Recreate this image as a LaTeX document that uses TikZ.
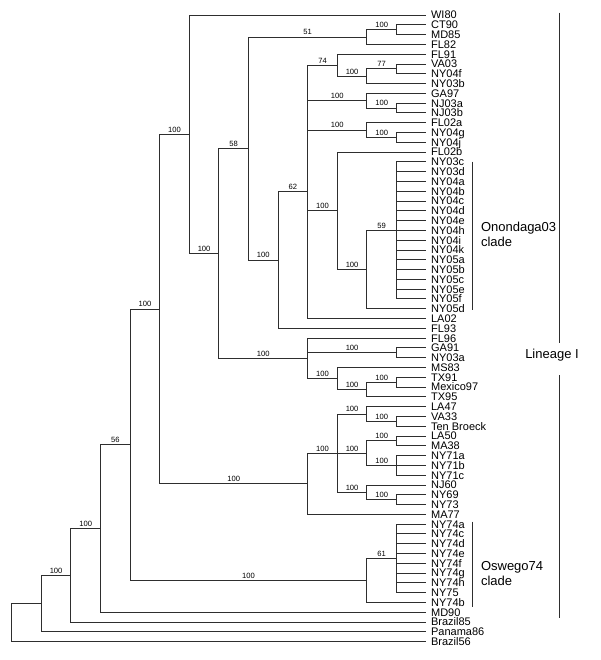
\documentclass[tikz,border=0pt]{standalone}
\usepackage{fontspec}
\setmainfont{Liberation Sans}
\begin{document}
\begin{tikzpicture}[x=1pt,y=-1pt,
  edge/.style={draw=black!82, line width=0.85pt},
  leaf/.style={anchor=west, inner xsep=4.8pt, inner ysep=0pt, text height=7.88pt, text depth=0pt, font=\fontsize{11}{13}\selectfont},
  bs/.style={pos=0.75, anchor=south, inner sep=0pt, yshift=1.6pt, font=\fontsize{7.6}{9}\selectfont},
  bracket/.style={draw=black!82, line width=0.9pt},
  cladetxt/.style={font=\fontsize{13}{15}\selectfont, align=left, anchor=west, inner sep=0pt}]
\useasboundingbox (0,0) rectangle (600,660);

% leaves
\foreach \n/\t [count=\i] in {WI80/WI80, CT90/CT90, MD85/MD85, FL82/FL82, FL91/FL91, VA03/VA03, NY04f/NY04f, NY03b/NY03b, GA97/GA97, NJ03a/NJ03a, NJ03b/NJ03b, FL02a/FL02a, NY04g/NY04g, NY04j/NY04j, FL02b/FL02b, NY03c/NY03c, NY03d/NY03d, NY04a/NY04a, NY04b/NY04b, NY04c/NY04c, NY04d/NY04d, NY04e/NY04e, NY04h/NY04h, NY04i/NY04i, NY04k/NY04k, NY05a/NY05a, NY05b/NY05b, NY05c/NY05c, NY05e/NY05e, NY05f/NY05f, NY05d/NY05d, LA02/LA02, FL93/FL93, FL96/FL96, GA91/GA91, NY03a/NY03a, MS83/MS83, TX91/TX91, Mexico97/Mexico97, TX95/TX95, LA47/LA47, VA33/VA33, TenBroeck/Ten Broeck, LA50/LA50, MA38/MA38, NY71a/NY71a, NY71b/NY71b, NY71c/NY71c, NJ60/NJ60, NY69/NY69, NY73/NY73, MA77/MA77, NY74a/NY74a, NY74c/NY74c, NY74d/NY74d, NY74e/NY74e, NY74f/NY74f, NY74g/NY74g, NY74h/NY74h, NY75/NY75, NY74b/NY74b, MD90/MD90, Brazil85/Brazil85, Panama86/Panama86, Brazil56/Brazil56}
  \node[leaf] (\n) at (426.1, {15+(\i-1)*9.79}) {\t};

% internal nodes
\coordinate (R)     at (11.7, 622.5);
\coordinate (L1)    at (41.3, 603.49);
\coordinate (L2)    at (70.9, 575.2);
\coordinate (L3)    at (100.5, 528.43);
\coordinate (L4)    at (130.1, 444.66);
\coordinate (L5)    at (159.7, 308.95);
\coordinate (L6)    at (189.3, 134.2);
\coordinate (L7)    at (218.9, 253.41);
\coordinate (L8)    at (248.5, 148.55);
\coordinate (L9)    at (278.1, 260.06);
\coordinate (n51)   at (366.9, 37.03);
\coordinate (nCM)   at (396.5, 29.685);
\coordinate (n62)   at (307.7, 191.83);
\coordinate (n74)   at (337.3, 65.175);
\coordinate (n100a) at (366.9, 76.19);
\coordinate (n77)   at (396.5, 68.845);
\coordinate (nGA)   at (366.9, 100.66);
\coordinate (nNJ)   at (396.5, 108.005);
\coordinate (nFLa)  at (366.9, 130.03);
\coordinate (nNYg)  at (396.5, 137.375);
\coordinate (nFLb)  at (337.3, 210.80);
\coordinate (n59p)  at (366.9, 269.54);
\coordinate (n59)   at (396.5, 230.38);
\coordinate (M)     at (307.7, 358.26);
\coordinate (nGN)   at (396.5, 352.755);
\coordinate (nMS)   at (337.3, 378.455);
\coordinate (nTX)   at (366.9, 389.47);
\coordinate (nTM)   at (396.5, 382.125);
\coordinate (Bot)   at (307.7, 483.70);
\coordinate (nABC)  at (337.3, 453.10);
\coordinate (A)     at (366.9, 413.94);
\coordinate (nVT)   at (396.5, 421.285);
\coordinate (B)     at (366.9, 453.10);
\coordinate (nLM)   at (396.5, 440.865);
\coordinate (nNY71) at (396.5, 465.34);
\coordinate (C)     at (366.9, 492.26);
\coordinate (nNY69) at (396.5, 499.605);
\coordinate (Osw)   at (366.9, 580.37);
\coordinate (n61)   at (396.5, 558.345);

% backbone
\draw[edge] (R) |- (L1);
\draw[edge] (R) |- (Brazil56.west);
\draw[edge] (L1) |- node[bs] (bL2) {100} (L2);
\draw[edge] (L1) |- (Panama86.west);
\draw[edge] (L2) |- node[bs] (bL3) {100} (L3);
\draw[edge] (L2) |- (Brazil85.west);
\draw[edge] (L3) |- node[bs] (bL4) {56} (L4);
\draw[edge] (L3) |- (MD90.west);
\draw[edge] (L4) |- node[bs] (bL5) {100} (L5);
\draw[edge] (L4) |- node[bs] (bOsw) {100} (Osw);
\draw[edge] (L5) |- node[bs] (bL6) {100} (L6);
\draw[edge] (L5) |- node[bs] (bBot) {100} (Bot);
\draw[edge] (L6) |- (WI80.west);
\draw[edge] (L6) |- node[bs] (bL7) {100} (L7);
\draw[edge] (L7) |- node[bs] (bL8) {58} (L8);
\draw[edge] (L7) |- node[bs] (bM) {100} (M);
\draw[edge] (L8) |- node[bs] (bn51) {51} (n51);
\draw[edge] (L8) |- node[bs] (bL9) {100} (L9);
\draw[edge] (n51) |- node[bs] (bnCM) {100} (nCM);
\draw[edge] (n51) |- (FL82.west);
\draw[edge] (nCM) |- (CT90.west);
\draw[edge] (nCM) |- (MD85.west);
\draw[edge] (L9) |- node[bs] (bn62) {62} (n62);
\draw[edge] (L9) |- (FL93.west);
% node 62
\draw[edge] (n62) |- node[bs] (bn74) {74} (n74);
\draw[edge] (n62) |- node[bs] (bnGA) {100} (nGA);
\draw[edge] (n62) |- node[bs] (bnFLa) {100} (nFLa);
\draw[edge] (n62) |- node[bs] (bnFLb) {100} (nFLb);
\draw[edge] (n62) |- (LA02.west);
\draw[edge] (n74) |- (FL91.west);
\draw[edge] (n74) |- node[bs] (bn100a) {100} (n100a);
\draw[edge] (n100a) |- node[bs] (bn77) {77} (n77);
\draw[edge] (n100a) |- (NY03b.west);
\draw[edge] (n77) |- (VA03.west);
\draw[edge] (n77) |- (NY04f.west);
\draw[edge] (nGA) |- (GA97.west);
\draw[edge] (nGA) |- node[bs] (bnNJ) {100} (nNJ);
\draw[edge] (nNJ) |- (NJ03a.west);
\draw[edge] (nNJ) |- (NJ03b.west);
\draw[edge] (nFLa) |- (FL02a.west);
\draw[edge] (nFLa) |- node[bs] (bnNYg) {100} (nNYg);
\draw[edge] (nNYg) |- (NY04g.west);
\draw[edge] (nNYg) |- (NY04j.west);
\draw[edge] (nFLb) |- (FL02b.west);
\draw[edge] (nFLb) |- node[bs] (bn59p) {100} (n59p);
\draw[edge] (n59p) |- node[bs] (bn59) {59} (n59);
\draw[edge] (n59p) |- (NY05d.west);
\foreach \c in {NY03c,NY03d,NY04a,NY04b,NY04c,NY04d,NY04e,NY04h,NY04i,NY04k,NY05a,NY05b,NY05c,NY05e,NY05f}
  \draw[edge] (n59) |- (\c.west);
% clade M
\draw[edge] (M) |- (FL96.west);
\draw[edge] (M) |- node[bs] (bnGN) {100} (nGN);
\draw[edge] (M) |- node[bs] (bnMS) {100} (nMS);
\draw[edge] (nGN) |- (GA91.west);
\draw[edge] (nGN) |- (NY03a.west);
\draw[edge] (nMS) |- (MS83.west);
\draw[edge] (nMS) |- node[bs] (bnTX) {100} (nTX);
\draw[edge] (nTX) |- node[bs] (bnTM) {100} (nTM);
\draw[edge] (nTX) |- (TX95.west);
\draw[edge] (nTM) |- (TX91.west);
\draw[edge] (nTM) |- (Mexico97.west);
% clade Bot
\draw[edge] (Bot) |- node[bs] (bnABC) {100} (nABC);
\draw[edge] (Bot) |- (MA77.west);
\draw[edge] (nABC) |- node[bs] (bA) {100} (A);
\draw[edge] (nABC) |- node[bs] (bB) {100} (B);
\draw[edge] (nABC) |- node[bs] (bC) {100} (C);
\draw[edge] (A) |- (LA47.west);
\draw[edge] (A) |- node[bs] (bnVT) {100} (nVT);
\draw[edge] (nVT) |- (VA33.west);
\draw[edge] (nVT) |- (TenBroeck.west);
\draw[edge] (B) |- node[bs] (bnLM) {100} (nLM);
\draw[edge] (B) |- node[bs] (bnNY71) {100} (nNY71);
\draw[edge] (nLM) |- (LA50.west);
\draw[edge] (nLM) |- (MA38.west);
\foreach \c in {NY71a,NY71b,NY71c} \draw[edge] (nNY71) |- (\c.west);
\draw[edge] (C) |- (NJ60.west);
\draw[edge] (C) |- node[bs] (bnNY69) {100} (nNY69);
\draw[edge] (nNY69) |- (NY69.west);
\draw[edge] (nNY69) |- (NY73.west);
% Oswego
\draw[edge] (Osw) |- node[bs] (bn61) {61} (n61);
\draw[edge] (Osw) |- (NY74b.west);
\foreach \c in {NY74a,NY74c,NY74d,NY74e,NY74f,NY74g,NY74h,NY75} \draw[edge] (n61) |- (\c.west);

% brackets
\coordinate (onoT) at (472.6, 161.7);
\coordinate (onoB) at (472.6, 310);
\draw[bracket] (onoT) -- (onoB);
\node[cladetxt] (onoTxt) at (480.8, 234.5) {Onondaga03\\clade};
\coordinate (oswT) at (472.4, 521.7);
\coordinate (oswB) at (472.4, 606.7);
\draw[bracket] (oswT) -- (oswB);
\node[cladetxt] (oswTxt) at (480.8, 573.5) {Oswego74\\clade};
\coordinate (linT) at (559.8, 12.7);
\coordinate (linM1) at (559.8, 343.3);
\coordinate (linM2) at (559.8, 375);
\coordinate (linB) at (559.8, 618.3);
\draw[bracket] (linT) -- (linM1);
\draw[bracket] (linM2) -- (linB);
\node[font=\fontsize{13}{15}\selectfont, anchor=base, inner sep=0pt] (linTxt) at (552, 358) {Lineage I};
\end{tikzpicture}
\end{document}
